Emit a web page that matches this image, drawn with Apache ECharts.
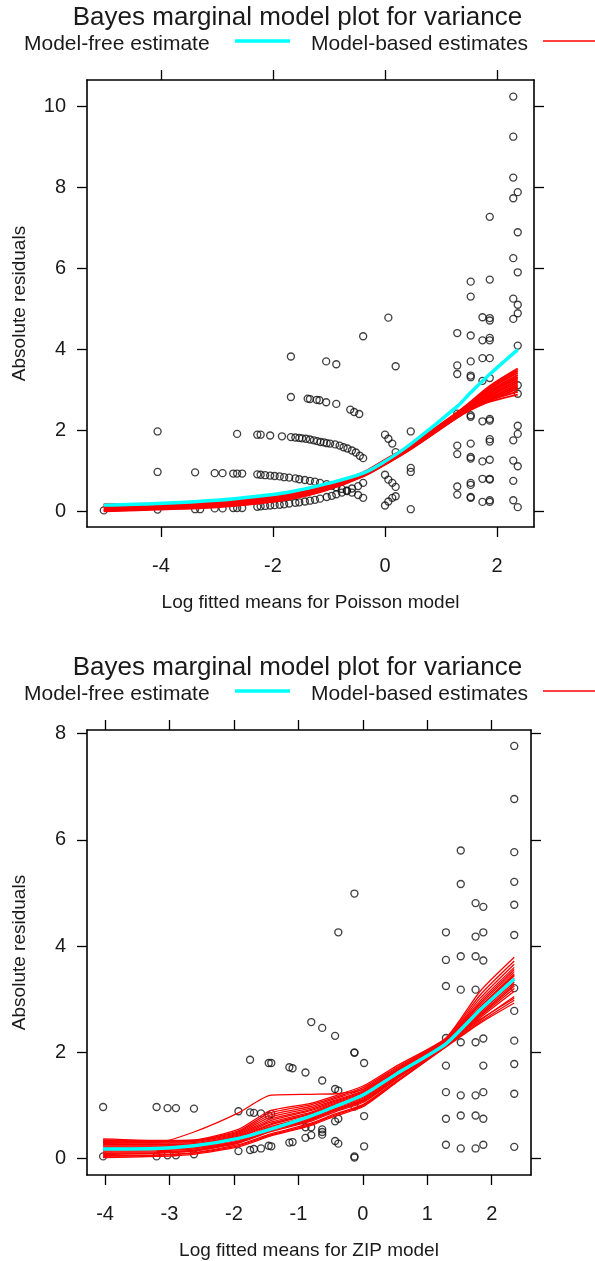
<!DOCTYPE html>
<html>
<head>
<meta charset="utf-8">
<script src="https://cdn.jsdelivr.net/npm/echarts@6/dist/echarts.min.js"></script>
<style>html,body{margin:0;padding:0;background:#fff}#c{width:595px;height:1261px}</style>
</head>
<body>
<div id="c"></div>
<script>
// ---------- Panel 1: Poisson model ----------
const poisPtX = [
-5.02,
-4.06,-4.06,-4.06,
-3.39,-3.39,-3.30,
-3.04,-3.04,-2.90,-2.90,
-2.71,-2.71,-2.64,-2.64,-2.64,-2.55,-2.55,
-2.28,-2.28,-2.28,-2.22,-2.22,-2.22,-2.14,-2.14,
-2.05,-2.05,-2.05,-1.97,-1.97,-1.88,-1.88,-1.84,-1.80,-1.80,-1.71,-1.71,
-1.68,-1.68,-1.68,-1.60,-1.60,-1.60,-1.53,-1.53,-1.53,-1.48,-1.43,-1.43,-1.41,-1.38,
-1.34,-1.34,-1.34,-1.34,-1.27,-1.25,-1.25,-1.22,-1.21,-1.17,-1.16,-1.16,-1.15,-1.09,
-1.05,-1.05,-1.04,-1.04,-1.04,-0.98,-0.95,-0.95,-0.89,
-0.87,-0.87,-0.87,-0.87,-0.81,-0.77,-0.77,-0.74,-0.68,-0.68,-0.67,-0.62,
-0.59,-0.59,-0.59,-0.55,-0.52,-0.48,-0.48,-0.46,-0.45,
-0.39,-0.39,-0.39,-0.39,
0.00,0.00,0.00,
0.06,0.06,0.06,0.06,
0.13,0.13,0.13,
0.19,0.19,0.19,0.19,
0.46,0.46,0.46,0.46,
1.29,1.29,1.29,1.29,1.29,1.29,1.29,1.29,
1.53,1.53,1.53,1.53,1.53,1.53,1.53,1.53,1.53,1.53,1.53,1.53,1.53,1.53,1.53,
1.74,1.74,1.74,1.74,1.74,1.74,1.74,1.74,1.74,
1.87,1.87,1.87,1.87,1.87,1.87,1.87,1.87,1.87,1.87,1.87,1.87,1.87,1.87,1.87,1.87,1.87,
2.29,2.29,2.29,2.29,2.29,2.29,2.29,2.29,2.29,2.29,2.29,
2.37,2.37,2.37,2.37,2.37,2.37,2.37,2.37,2.37,2.37,2.37,2.37
];
const poisPtY = [
0.02,
1.97,0.97,0.04,
0.96,0.05,0.05,
0.94,0.07,0.94,0.07,
0.93,0.08,1.91,0.93,0.08,0.93,0.08,
1.89,0.91,0.11,1.89,0.90,0.12,0.89,0.13,
1.87,0.88,0.14,0.87,0.15,0.86,0.16,1.85,0.84,0.17,0.83,0.19,
3.82,2.82,1.83,1.82,0.81,0.21,1.81,0.79,0.22,1.80,0.77,0.24,1.79,2.78,
2.77,1.77,0.75,0.26,1.75,0.73,0.28,2.75,1.73,2.74,0.70,0.31,1.71,1.70,
3.70,2.69,1.68,0.67,0.35,1.67,0.63,0.38,1.65,
3.63,2.65,0.59,0.42,1.62,0.55,0.46,1.58,0.50,0.51,1.55,2.51,
1.50,0.46,0.56,2.45,1.45,0.40,0.62,2.40,1.37,
4.32,1.31,0.70,0.33,
1.89,0.90,0.14,
4.78,1.79,0.78,0.24,
1.67,0.70,0.33,
3.58,1.46,0.60,0.37,
1.97,1.07,0.97,0.05,
4.40,3.60,3.39,2.41,1.62,1.41,0.61,0.41,
5.67,5.30,4.34,3.70,3.35,3.31,2.37,2.33,1.67,1.34,1.30,0.70,0.65,0.35,0.33,
4.79,4.22,3.78,3.22,2.81,2.22,1.23,0.80,0.23,
7.27,5.72,4.77,4.71,4.28,4.22,3.78,3.29,2.28,2.24,1.78,1.72,1.27,0.80,0.78,0.27,0.23,
10.24,9.25,8.24,7.73,6.25,5.25,4.75,1.75,1.25,0.75,0.27,
7.88,6.89,5.90,5.10,4.89,4.09,3.11,2.90,2.11,1.91,1.11,0.10
];
const poisLineX = [-5.02,-4.06,-3.0,-2.27,-1.68,-1.04,-0.39,0.0,0.46,1.29,1.53,1.86,2.37];
const poisFree  = [0.15,0.19,0.27,0.37,0.48,0.68,0.94,1.23,1.66,2.59,2.93,3.37,3.99];
const poisBased = [
[0.00,0.04,0.10,0.19,0.30,0.52,0.86,1.15,1.53,2.31,2.50,2.72,3.03],
[0.02,0.06,0.12,0.20,0.31,0.53,0.87,1.16,1.54,2.32,2.52,2.76,3.08],
[0.03,0.07,0.13,0.22,0.33,0.54,0.88,1.17,1.55,2.34,2.54,2.79,3.13],
[0.05,0.09,0.15,0.23,0.34,0.55,0.89,1.19,1.56,2.35,2.56,2.83,3.18],
[0.07,0.10,0.16,0.25,0.35,0.56,0.90,1.20,1.57,2.36,2.58,2.86,3.23],
[0.09,0.12,0.18,0.26,0.37,0.58,0.91,1.21,1.59,2.38,2.60,2.90,3.28],
[0.10,0.13,0.19,0.27,0.38,0.59,0.92,1.22,1.60,2.39,2.62,2.94,3.32],
[0.12,0.15,0.21,0.29,0.39,0.60,0.93,1.23,1.61,2.40,2.64,2.97,3.37],
[0.14,0.16,0.22,0.30,0.40,0.61,0.94,1.25,1.62,2.41,2.66,3.01,3.42],
[0.15,0.18,0.24,0.32,0.42,0.62,0.95,1.26,1.63,2.43,2.68,3.04,3.47],
[0.17,0.19,0.25,0.33,0.43,0.63,0.96,1.27,1.64,2.44,2.70,3.08,3.52],
[0.16,0.17,0.20,0.24,0.32,0.55,0.90,1.22,1.60,2.35,2.55,2.74,2.95],
[0.01,0.06,0.14,0.26,0.38,0.60,0.93,1.20,1.56,2.34,2.52,2.70,2.88]
];
const poisXTicks = [-4,-2,0,2];
const poisYTicks = [0,2,4,6,8,10];

// ---------- Panel 2: ZIP model ----------
const zipPtX = [
-4.03,-4.03,-3.20,-3.20,-3.03,-3.03,-2.90,-2.90,-2.62,-2.62,
-1.93,-1.93,-1.75,-1.75,-1.75,-1.69,-1.69,-1.58,-1.58,
-1.46,-1.46,-1.46,-1.42,-1.42,-1.42,-1.14,-1.14,-1.09,-1.09,
-0.89,-0.89,-0.89,-0.80,-0.80,-0.80,
-0.63,-0.63,-0.63,-0.63,-0.63,
-0.43,-0.43,-0.43,-0.43,-0.38,-0.38,-0.38,-0.38,
-0.13,-0.13,-0.13,-0.13,-0.13,-0.13,
0.02,0.02,0.02,
1.29,1.29,1.29,1.29,1.29,1.29,1.29,1.29,
1.52,1.52,1.52,1.52,1.52,1.52,1.52,1.52,
1.75,1.75,1.75,1.75,1.75,1.75,1.75,1.75,
1.87,1.87,1.87,1.87,1.87,1.87,1.87,1.87,
2.35,2.35,2.35,2.35,2.35,2.35,2.35,2.35,2.35,2.35,2.35,2.35
];
const zipPtY = [
0.97,0.04,0.97,0.04,0.95,0.06,0.95,0.06,0.94,0.08,
0.89,0.14,1.86,0.87,0.16,0.86,0.18,0.85,0.19,
1.80,0.81,0.24,1.80,0.84,0.23,1.72,0.30,1.70,0.31,
1.62,0.59,0.39,2.57,0.59,0.44,
2.46,1.47,0.55,0.50,0.45,
2.31,1.31,0.70,0.33,4.26,1.28,0.75,0.28,
4.99,2.00,1.99,0.98,0.04,0.02,
1.80,0.80,0.23,
4.26,3.74,3.25,2.27,1.75,1.25,0.75,0.26,
5.80,5.17,3.81,3.18,2.19,1.19,0.81,0.19,
4.81,4.18,3.81,3.18,2.19,1.19,0.81,0.19,
4.74,4.26,3.73,2.26,1.75,1.25,0.75,0.26,
7.77,6.77,5.77,5.21,4.78,4.21,3.21,2.78,2.22,1.78,1.22,0.22
];
const zipLineX = [-4.03,-3.2,-2.62,-1.93,-1.44,-0.81,-0.43,0.01,0.53,1.29,1.82,2.35];
const zipFree  = [0.18,0.19,0.24,0.38,0.55,0.80,0.98,1.20,1.60,2.16,2.80,3.38];
const zipBased = [
[0.02,0.04,0.08,0.22,0.42,0.62,0.80,0.98,1.44,2.10,2.55,2.93],
[0.04,0.06,0.10,0.24,0.44,0.64,0.82,1.00,1.45,2.11,2.57,2.98],
[0.06,0.07,0.11,0.26,0.46,0.66,0.84,1.02,1.47,2.12,2.60,3.05],
[0.08,0.10,0.15,0.30,0.52,0.72,0.90,1.08,1.52,2.14,2.68,3.20],
[0.10,0.11,0.14,0.29,0.50,0.70,0.88,1.06,1.50,2.13,2.65,3.15],
[0.12,0.13,0.16,0.31,0.53,0.73,0.91,1.09,1.52,2.15,2.72,3.28],
[0.14,0.15,0.18,0.32,0.54,0.74,0.92,1.10,1.53,2.15,2.70,3.25],
[0.16,0.17,0.20,0.33,0.56,0.76,0.94,1.12,1.55,2.16,2.62,3.02],
[0.18,0.19,0.21,0.35,0.58,0.78,0.96,1.14,1.56,2.16,2.75,3.32],
[0.20,0.20,0.23,0.37,0.60,0.80,0.98,1.16,1.58,2.17,2.78,3.36],
[0.22,0.22,0.24,0.39,0.63,0.83,1.00,1.18,1.59,2.18,2.80,3.40],
[0.24,0.24,0.26,0.40,0.65,0.85,1.02,1.20,1.61,2.19,2.83,3.44],
[0.26,0.26,0.27,0.42,0.68,0.87,1.04,1.22,1.62,2.20,2.86,3.48],
[0.28,0.27,0.28,0.44,0.71,0.90,1.06,1.24,1.64,2.21,2.90,3.52],
[0.30,0.29,0.30,0.46,0.74,0.92,1.08,1.26,1.66,2.22,2.93,3.56],
[0.32,0.31,0.32,0.48,0.78,0.95,1.10,1.28,1.68,2.23,2.97,3.60],
[0.34,0.32,0.33,0.50,0.82,0.98,1.13,1.31,1.70,2.24,3.02,3.66],
[0.35,0.33,0.34,0.52,0.86,1.01,1.15,1.34,1.72,2.26,3.08,3.72],
[0.37,0.34,0.35,0.55,0.90,1.04,1.18,1.37,1.75,2.27,3.15,3.79],
[0.30,0.30,0.50,0.86,1.19,1.21,1.22,1.30,1.65,2.20,2.85,3.45]
];
const zipXTicks = [-4,-3,-2,-1,0,1,2];
const zipYTicks = [0,2,4,6,8];

const titleText = 'Bayes marginal model plot for variance';
const freeName = 'Model-free estimate';
const basedName = 'Model-based estimates';
const yName = 'Absolute residuals';
const xNames = ['Log fitted means for Poisson model', 'Log fitted means for ZIP model'];

// ---------- chart ----------
const FONT = '"Liberation Sans", Arial, Helvetica, sans-serif';
const TXT = '#1a1a1a';
const chart = echarts.init(document.getElementById('c'), null, {renderer: 'canvas'});

const panels = [
  {grid:{left:87, top:80, width:447, height:447}, xr:[-5.32,2.66], yr:[-0.39,10.65],
   xt:poisXTicks, yt:poisYTicks, ptX:poisPtX, ptY:poisPtY, lx:poisLineX, free:poisFree, based:poisBased,
   redW:2, smooth:0.35, xName:xNames[0]},
  {grid:{left:87, top:730, width:444, height:445}, xr:[-4.28,2.61], yr:[-0.31,8.07],
   xt:zipXTicks, yt:zipYTicks, ptX:zipPtX, ptY:zipPtY, lx:zipLineX, free:zipFree, based:zipBased,
   redW:1.3, smooth:0.2, xName:xNames[1]}
];

const grids=[], xAxes=[], yAxes=[], series=[];
const lineStyleAxis = {color:'#000', width:1.6};
panels.forEach((p, gi) => {
  grids.push(p.grid);
  const tick = (vals) => ({show:true, inside:false, length:10, customValues:vals, lineStyle:{color:'#000', width:1.3}});
  xAxes.push({type:'value', gridIndex:gi, position:'bottom', min:p.xr[0], max:p.xr[1],
    axisLine:{show:true, onZero:false, lineStyle:lineStyleAxis}, splitLine:{show:false},
    axisTick:tick(p.xt),
    axisLabel:{show:true, customValues:p.xt, margin:29, fontSize:20, color:TXT, fontFamily:FONT},
    name:p.xName, nameLocation:'middle', nameGap:66, nameTextStyle:{fontSize:19, color:TXT, fontFamily:FONT}});
  xAxes.push({type:'value', gridIndex:gi, position:'top', min:p.xr[0], max:p.xr[1],
    axisLine:{show:true, onZero:false, lineStyle:lineStyleAxis}, splitLine:{show:false},
    axisTick:tick(p.xt), axisLabel:{show:false}});
  yAxes.push({type:'value', gridIndex:gi, position:'left', min:p.yr[0], max:p.yr[1],
    axisLine:{show:true, onZero:false, lineStyle:lineStyleAxis}, splitLine:{show:false},
    axisTick:tick(p.yt),
    axisLabel:{show:true, customValues:p.yt, margin:21, fontSize:20, color:TXT, fontFamily:FONT},
    name:yName, nameLocation:'middle', nameGap:58, nameRotate:90, nameTextStyle:{fontSize:19, color:TXT, fontFamily:FONT}});
  yAxes.push({type:'value', gridIndex:gi, position:'right', min:p.yr[0], max:p.yr[1],
    axisLine:{show:true, onZero:false, lineStyle:lineStyleAxis}, splitLine:{show:false},
    axisTick:tick(p.yt), axisLabel:{show:false}});
  const xi = gi*2, yi = gi*2;
  series.push({type:'scatter', name:'points'+gi, xAxisIndex:xi, yAxisIndex:yi, z:2,
    symbol:'circle', symbolSize:7, silent:true,
    itemStyle:{color:'rgba(0,0,0,0)', borderColor:'#111', borderWidth:1.35},
    data:p.ptX.map((x,i)=>[x, p.ptY[i]])});
  p.based.forEach((arr, k) => {
    series.push({type:'line', name:basedName, xAxisIndex:xi, yAxisIndex:yi, z:3,
      showSymbol:false, smooth:p.smooth, silent:true,
      lineStyle:{color:'#ff0000', width:p.redW}, data:p.lx.map((x,i)=>[x, arr[i]])});
  });
  series.push({type:'line', name:freeName, xAxisIndex:xi, yAxisIndex:yi, z:4,
    showSymbol:false, smooth:p.smooth, silent:true,
    lineStyle:{color:'#00ffff', width:3.4}, data:p.lx.map((x,i)=>[x, p.free[i]])});
});

const graphic = [];
[0, 650].forEach(dy => {
  graphic.push({type:'text', left:'center', top:5+dy, style:{text:titleText, fontSize:26, fontFamily:FONT, fill:TXT}});
  graphic.push({type:'text', x:24, y:44+dy, style:{text:freeName, fontSize:21, fontFamily:FONT, fill:TXT, textVerticalAlign:'middle'}});
  graphic.push({type:'line', shape:{x1:235, y1:41+dy, x2:290, y2:41+dy}, style:{stroke:'#00ffff', lineWidth:3.5}});
  graphic.push({type:'text', x:311, y:44+dy, style:{text:basedName, fontSize:21, fontFamily:FONT, fill:TXT, textVerticalAlign:'middle'}});
  graphic.push({type:'line', shape:{x1:543, y1:41+dy, x2:600, y2:41+dy}, style:{stroke:'#ff0000', lineWidth:1.5}});
});

chart.setOption({
  backgroundColor:'#ffffff',
  animation:false,
  grid:grids, xAxis:xAxes, yAxis:yAxes, series:series, graphic:graphic
});
</script>
</body>
</html>
